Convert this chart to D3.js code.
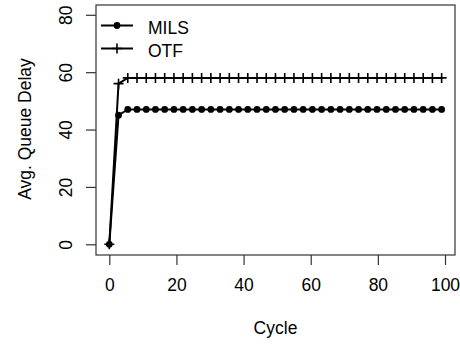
<!DOCTYPE html>
<html><head><meta charset="utf-8">
<script src="https://cdn.jsdelivr.net/npm/d3@7"></script>
<style>body{margin:0;background:#fff}svg{display:block}text{font-family:"Liberation Sans",Arial,sans-serif;fill:#000}</style>
</head><body>
<script>
const cycles = [0,2.75,5.5,8.25,11,13.75,16.5,19.25,22,24.75,27.5,30.25,33,35.75,38.5,41.25,44,46.75,49.5,52.25,55,57.75,60.5,63.25,66,68.75,71.5,74.25,77,79.75,82.5,85.25,88,90.75,93.5,96.25,99];
const mils = [0,45].concat(new Array(35).fill(47));
const otf = [0,56].concat(new Array(35).fill(58));
const xTicks = [0,20,40,60,80,100];
const yTicks = [0,20,40,60,80];
const seriesNames = ["MILS","OTF"];

const W=460,H=344;
const svg=d3.select("body").append("svg").attr("width",W).attr("height",H);
const box={l:96,r:455,t:5,b:255};
const x=d3.scaleLinear().domain([0,100]).range([109.3,445]);
const y=d3.scaleLinear().domain([0,80]).range([244.3,14.8]);

const fs=17.5;
// box
svg.append("rect").attr("x",box.l).attr("y",box.t).attr("width",box.r-box.l).attr("height",box.b-box.t)
  .attr("fill","none").attr("stroke","#333").attr("stroke-width",1.2);

// x axis
const xa=svg.append("g").attr("transform",`translate(0,${box.b})`)
  .call(d3.axisBottom(x).tickValues(xTicks).tickSize(10).tickPadding(14).tickFormat(d3.format("d")));
xa.select(".domain").remove();
xa.selectAll("line").attr("stroke","#333").attr("stroke-width",1.2);
xa.selectAll("text").attr("font-size",fs).attr("fill","#000").style("font-family","Liberation Sans, Arial, sans-serif");

// y axis
const ya=svg.append("g").attr("transform",`translate(${box.l},0)`)
  .call(d3.axisLeft(y).tickValues(yTicks).tickSize(10).tickFormat(d3.format("d")));
ya.select(".domain").remove();
ya.selectAll("line").attr("stroke","#333").attr("stroke-width",1.2);
ya.selectAll("text").remove();
ya.selectAll(".tick").append("text")
  .attr("transform","translate(-24,0) rotate(-90)")
  .attr("text-anchor","middle").attr("dy","0em").attr("y",0)
  .attr("font-size",fs).attr("fill","#000")
  .style("font-family","Liberation Sans, Arial, sans-serif")
  .text(d=>d);

// axis titles
svg.append("text").attr("x",(box.l+box.r)/2).attr("y",334).attr("text-anchor","middle").attr("font-size",fs).text("Cycle");
svg.append("text").attr("transform",`translate(31,129) rotate(-90)`).attr("text-anchor","middle").attr("font-size",fs).text("Avg. Queue Delay");

const line=d3.line().x((d,i)=>x(cycles[i])).y(d=>y(d));
const g=svg.append("g");
g.append("path").datum(otf).attr("d",line).attr("fill","none").attr("stroke","#000").attr("stroke-width",2);
g.append("path").datum(mils).attr("d",line).attr("fill","none").attr("stroke","#000").attr("stroke-width",2);

function plus(sel,cx,cy){
  sel.append("path").attr("d",`M${cx-5},${cy}H${cx+5}M${cx},${cy-5}V${cy+5}`).attr("stroke","#000").attr("stroke-width",1.6).attr("fill","none");
}
otf.forEach((v,i)=>plus(g,x(cycles[i]),y(v)));
g.selectAll("circle.m").data(mils).enter().append("circle")
  .attr("cx",(d,i)=>x(cycles[i])).attr("cy",d=>y(d)).attr("r",3.4).attr("fill","#000");

// legend
const lg=svg.append("g");
const ly=[25.5,48.5];
seriesNames.forEach((n,i)=>{
  lg.append("line").attr("x1",101).attr("x2",133).attr("y1",ly[i]).attr("y2",ly[i]).attr("stroke","#000").attr("stroke-width",2);
  if(i===0) lg.append("circle").attr("cx",117).attr("cy",ly[i]).attr("r",3.4).attr("fill","#000");
  else plus(lg,117,ly[i]);
  lg.append("text").attr("x",148).attr("y",ly[i]+8.5).attr("font-size",fs).text(n);
});
</script>
</body></html>
